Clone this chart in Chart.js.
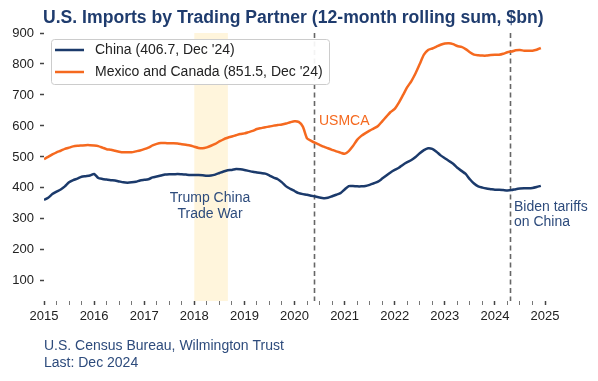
<!DOCTYPE html>
<html>
<head>
<title>U.S. Imports by Trading Partner</title>
<script src="https://cdn.jsdelivr.net/npm/chart.js"></script>
<style>
  body { margin: 0; background: #fff; }
  #wrap { width: 598px; height: 381px; position: relative; }
</style>
</head>
<body>
<div id="wrap"><canvas id="chart"></canvas></div>
<script>
// monthly 12-month rolling sums, Jan 2015 .. Dec 2024 ($bn)
const startYear = 2015;
const china = [
  361, 368, 380, 388, 395, 405, 418, 425, 430, 436, 438, 440,
  445, 432, 429, 427, 425, 424, 421, 418, 417, 418, 420, 424,
  426, 428, 434, 437, 440, 443, 444, 444, 445, 444, 443, 442,
  442, 442, 441, 439, 440, 443, 448, 453, 457, 458, 461, 460,
  458, 455, 452, 450, 448, 446, 440, 433, 428, 418, 405, 397,
  390, 383, 380, 378, 375, 372, 369, 367, 368, 373, 378, 383,
  395, 406, 406, 405, 405, 406, 410, 415, 420, 430, 440, 450,
  458, 465, 475, 483, 490, 500, 512, 522, 528, 526, 517, 505,
  496, 487, 478, 465, 455, 445, 428, 414, 405, 401, 398, 396,
  394, 394, 393, 392, 393, 396, 398, 399, 399, 400, 403, 406.7
];
const mexicoCanada = [
  493, 500, 508, 515, 520, 526, 530, 534, 536, 537, 538, 538,
  537, 535, 530, 525, 523, 520, 517, 515, 515, 515, 518, 521,
  525, 530, 537, 542, 545, 545, 544, 544, 543, 541, 539, 537,
  533, 529, 528, 531, 536, 542, 550, 557, 562, 566, 570, 574,
  576, 580, 584, 590, 593, 596, 598, 601, 603, 605, 608, 612,
  615, 613, 598, 560, 552, 545, 539, 533, 528, 523, 518, 514,
  510, 519, 535, 555, 568, 577, 585, 592, 600, 615, 630, 645,
  655, 675, 700, 725, 745, 770, 800, 830, 845, 850, 856, 862,
  866, 867, 864, 858, 855, 848, 838, 830, 828, 827, 827, 829,
  830, 830, 833, 838, 840, 844, 845, 843, 843, 843, 846, 851.5
];
const seriesLabels = ["China (406.7, Dec '24)", "Mexico and Canada (851.5, Dec '24)"];
const yTicks = [100, 200, 300, 400, 500, 600, 700, 800, 900];
const xYears = [2015, 2016, 2017, 2018, 2019, 2020, 2021, 2022, 2023, 2024, 2025];
const tradeWar = [2018.0, 2018.67];
const eventLines = [2020.39, 2024.31];

const NAVY = '#1b3a6b';
const ORANGE = '#f5691f';
const TEXT_NAVY = '#2d4b7c';
const FONT = "'Liberation Sans', Arial, sans-serif";

const toPoints = arr => arr.map((v, i) => ({ x: startYear + i / 12, y: v }));

const extras = {
  id: 'extras',
  beforeDatasetsDraw(chart) {
    const { ctx, chartArea: a, scales: { x } } = chart;
    ctx.save();
    ctx.fillStyle = '#fff5dc';
    const x0 = x.getPixelForValue(tradeWar[0]), x1 = x.getPixelForValue(tradeWar[1]);
    ctx.fillRect(x0, a.top, x1 - x0, a.bottom - a.top);
    ctx.strokeStyle = '#666666';
    ctx.lineWidth = 1.6;
    ctx.setLineDash([5, 3.5]);
    eventLines.forEach(v => {
      const px = Math.round(x.getPixelForValue(v)) + 0.5;
      ctx.beginPath();
      ctx.moveTo(px, a.top);
      ctx.lineTo(px, a.bottom);
      ctx.stroke();
    });
    ctx.restore();
  },
  afterDraw(chart) {
    const { ctx } = chart;
    ctx.save();
    // title
    ctx.fillStyle = '#1f3c6e';
    ctx.font = 'bold 17.6px ' + FONT;
    ctx.textAlign = 'left';
    ctx.textBaseline = 'middle';
    ctx.fillText('U.S. Imports by Trading Partner (12-month rolling sum, $bn)', 43, 18);

    // annotations
    ctx.font = '14px ' + FONT;
    ctx.fillStyle = TEXT_NAVY;
    ctx.textAlign = 'center';
    ctx.fillText('Trump China', 210, 198);
    ctx.fillText('Trade War', 210, 214);
    ctx.textAlign = 'left';
    ctx.fillText('Biden tariffs', 514, 207);
    ctx.fillText('on China', 514, 222);
    ctx.fillStyle = ORANGE;
    ctx.fillText('USMCA', 319, 121);

    // legend
    const lx = 51, ly = 39, lw = 278, lh = 45;
    ctx.fillStyle = 'rgba(255,255,255,0.92)';
    ctx.strokeStyle = '#cccccc';
    ctx.lineWidth = 1;
    ctx.beginPath();
    ctx.roundRect(lx + 0.5, ly + 0.5, lw, lh, 3);
    ctx.fill();
    ctx.stroke();
    chart.data.datasets.forEach((ds, i) => {
      const yy = 50 + i * 22;
      ctx.strokeStyle = ds.borderColor;
      ctx.lineWidth = 2.5;
      ctx.beginPath();
      ctx.moveTo(55, yy);
      ctx.lineTo(84, yy);
      ctx.stroke();
      ctx.fillStyle = '#222';
      ctx.font = '14px ' + FONT;
      ctx.fillText(ds.label, 95, yy);
    });

    // source
    ctx.fillStyle = TEXT_NAVY;
    ctx.font = '14px ' + FONT;
    ctx.fillText('U.S. Census Bureau, Wilmington Trust', 44, 346);
    ctx.fillText('Last: Dec 2024', 44, 363);
    ctx.restore();
  }
};

new Chart(document.getElementById('chart'), {
  type: 'line',
  data: {
    datasets: [
      { label: seriesLabels[0], data: toPoints(china), borderColor: NAVY, borderWidth: 2.5, pointRadius: 0, tension: 0.2 },
      { label: seriesLabels[1], data: toPoints(mexicoCanada), borderColor: ORANGE, borderWidth: 2.5, pointRadius: 0, tension: 0.2 }
    ]
  },
  options: {
    responsive: true,
    maintainAspectRatio: false,
    animation: false,
    layout: { padding: { left: 4, right: 53, top: 33, bottom: 50 } },
    plugins: { legend: { display: false }, title: { display: false }, tooltip: { enabled: false } },
    scales: {
      x: {
        type: 'linear',
        min: 2015, max: 2025,
        border: { display: false },
        grid: {
          drawOnChartArea: false, drawTicks: true, tickLength: 4,
          tickColor: c => Number.isInteger(c.tick.value) ? '#444' : '#777',
          tickWidth: c => Number.isInteger(c.tick.value) ? 1.5 : 1
        },
        afterBuildTicks: s => {
          const t = [];
          for (let i = 0; i <= (xYears[xYears.length - 1] - xYears[0]) * 4; i++) t.push({ value: xYears[0] + i * 0.25 });
          s.ticks = t;
        },
        ticks: {
          autoSkip: false, maxRotation: 0, padding: 4,
          color: '#222', font: { family: FONT, size: 13 },
          callback: v => xYears.includes(v) ? String(v) : ''
        },
        afterFit: s => { s.height = 30; }
      },
      y: {
        min: 35, max: 900,
        border: { display: false },
        grid: { drawOnChartArea: false, drawTicks: true, tickLength: 4, tickColor: '#444', tickWidth: 1.5 },
        afterBuildTicks: s => { s.ticks = yTicks.map(v => ({ value: v })); },
        ticks: { padding: 6, color: '#222', font: { family: FONT, size: 13 } },
        afterFit: s => { s.width = 40; }
      }
    }
  },
  plugins: [extras]
});
</script>
</body>
</html>
